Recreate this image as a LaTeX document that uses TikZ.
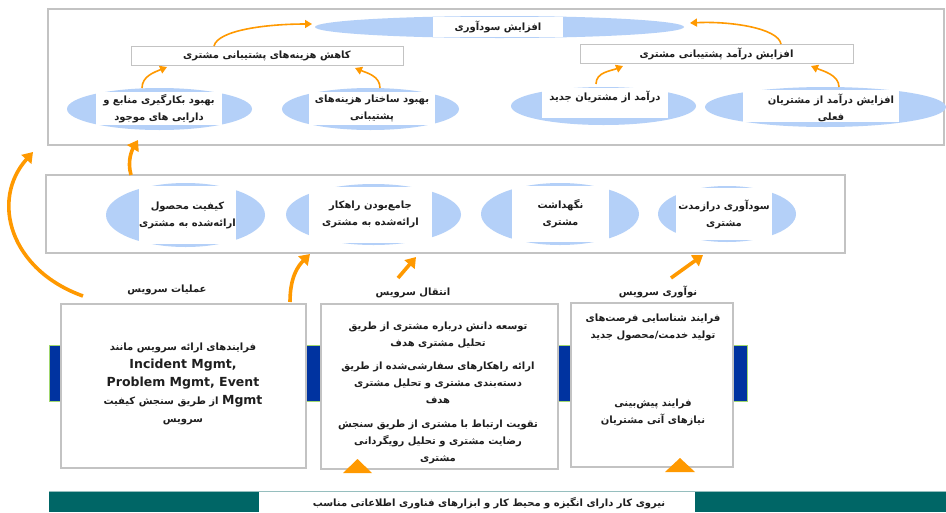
\documentclass[tikz,border=0pt]{standalone}
\usepackage{fontspec}
\setmainfont{DejaVu Sans}
\newfontfamily\fafont[Script=Arabic]{DejaVu Sans}
\TeXXeTstate=1
\usetikzlibrary{shapes.geometric,arrows.meta,calc}
\newcommand{\fa}[1]{{\fafont\bfseries\beginR #1\endR}}
\newcommand{\fasize}{\fontsize{10}{17}\selectfont}
\newcommand{\ensize}{\fontsize{12.5}{17}\selectfont\bfseries}
\definecolor{ellblue}{RGB}{180,208,248}
\definecolor{arrorange}{RGB}{255,153,0}
\definecolor{framegray}{RGB}{195,195,195}
\definecolor{barblue}{RGB}{0,51,160}
\definecolor{barteal}{RGB}{0,102,102}
\definecolor{bargreen}{RGB}{160,215,110}
\definecolor{tealedge}{RGB}{150,190,190}
\definecolor{inkgray}{RGB}{30,30,30}
\begin{document}
\begin{tikzpicture}[x=1pt,y=-1pt,
  every node/.style={inner sep=0pt, outer sep=0pt, text=inkgray},
  frame/.style={rectangle, draw=framegray, line width=1.3pt, fill=white},
  ell/.style={ellipse, fill=ellblue, draw=none},
  wlab/.style={rectangle, fill=white, draw=none, align=center, font=\fasize},
  txt/.style={align=center, font=\fasize},
  thinarr/.style={draw=arrorange, line width=1.6pt, -{Triangle[length=7pt,width=8pt]}},
  thickarr/.style={draw=arrorange, line width=3.6pt, -{Triangle[length=10pt,width=13pt]}}]
\useasboundingbox (0,0) rectangle (946,512);

% ---------- upper frame: profitability goals ----------
\node[frame, minimum width=896pt, minimum height=136pt] (topFrame) at (496,77) {};
\node[ell, minimum width=369pt, minimum height=22pt] (goalE) at (499.5,27) {};
\node[wlab, minimum width=130pt, minimum height=20pt] (goal) at (498,27) {\fa{افزایش سودآوری}};

\node[frame, line width=1pt, minimum width=272pt, minimum height=19pt, font=\fasize] (kahesh) at (267,55.5)
  {\fa{کاهش هزینه‌های پشتیبانی مشتری}};
\node[frame, line width=1pt, minimum width=273pt, minimum height=19pt, font=\fasize] (darAmad) at (716.5,53.5)
  {\fa{افزایش درآمد پشتیبانی مشتری}};

\node[ell, minimum width=185pt, minimum height=42pt] (e1) at (159.5,109) {};
\node[wlab, minimum width=126pt, minimum height=33pt] (e1t) at (159,108.5)
  {\fa{بهبود بکارگیری منابع و}\\ \fa{دارایی های موجود}};
\node[ell, minimum width=177pt, minimum height=42pt] (e2) at (370.5,109) {};
\node[wlab, minimum width=126pt, minimum height=33pt] (e2t) at (372,108.5)
  {\fa{بهبود ساختار هزینه‌های}\\ \fa{پشتیبانی}};
\node[ell, minimum width=185pt, minimum height=38pt] (e3) at (603.5,106) {};
\node[wlab, minimum width=126pt, minimum height=30pt] (e3w) at (605,103) {};
\node[txt] (e3t) at (605,97) {\fa{درآمد از مشتریان جدید}};
\node[ell, minimum width=241pt, minimum height=40pt] (e4) at (825.5,107) {};
\node[wlab, minimum width=156pt, minimum height=32pt] (e4w) at (821,106) {};
\node[txt] (e4t) at (831,108) {\fa{افزایش درآمد از مشتریان}\\ \fa{فعلی}};

\draw[thinarr] ($(kahesh.north)+(-53,0)$) .. controls +(4,-16) and +(-45,0) .. ($(goalE.west)+(-3,-3)$);
\draw[thinarr] ($(darAmad.north)+(64.5,0)$) .. controls +(-3,-16) and +(40,-2) .. ($(goalE.east)+(6,-4)$);
\draw[thinarr] ($(e1.north)+(-17.5,0)$) .. controls +(0,-12) and +(-12,5) .. ($(kahesh.south west)+(36,2)$);
\draw[thinarr] ($(e2.north)+(9.5,0)$) .. controls +(0,-12) and +(12,5) .. ($(kahesh.south east)+(-48,3)$);
\draw[thinarr] ($(e3.north)+(-7.5,-3)$) .. controls +(0,-12) and +(-12,5) .. ($(darAmad.south west)+(43,3)$);
\draw[thinarr] ($(e4.north)+(13.5,0)$) .. controls +(0,-12) and +(12,5) .. ($(darAmad.south east)+(-42,3)$);

% ---------- middle frame: customer outcomes ----------
\node[frame, minimum width=799pt, minimum height=78pt] (midFrame) at (445.5,214) {};
\node[ell, minimum width=159pt, minimum height=64pt] (m1) at (185.5,215) {};
\node[wlab, minimum width=97pt, minimum height=58pt] (m1t) at (187.5,215)
  {\fa{کیفیت محصول}\\ \fa{ارائه‌شده به مشتری}};
\node[ell, minimum width=175pt, minimum height=61pt] (m2) at (373.5,214.5) {};
\node[wlab, minimum width=123pt, minimum height=56pt] (m2t) at (370.5,214.5)
  {\fa{جامع‌بودن راهکار}\\ \fa{ارائه‌شده به مشتری}};
\node[ell, minimum width=158pt, minimum height=62pt] (m3) at (560,214) {};
\node[wlab, minimum width=97pt, minimum height=56pt] (m3t) at (560.5,214)
  {\fa{نگهداشت}\\ \fa{مشتری}};
\node[ell, minimum width=138pt, minimum height=56pt] (m4) at (727,214) {};
\node[wlab, minimum width=96pt, minimum height=52pt] (m4t) at (724,214)
  {\fa{سودآوری درازمدت}\\ \fa{مشتری}};

% ---------- lower part: service processes ----------
\node[rectangle, fill=barblue, draw=bargreen, line width=0.6pt, minimum width=698pt, minimum height=56pt] (blueBar) at (398,373) {};

\node[frame, minimum width=245pt, minimum height=164pt] (boxA) at (183.5,386) {};
\node[frame, minimum width=237pt, minimum height=165pt] (boxB) at (439.5,386.5) {};
\node[frame, minimum width=162pt, minimum height=164pt] (boxC) at (652,385) {};

\node[txt] (opsLbl) at (167,290) {\fa{عملیات سرویس}};
\node[txt] (transLbl) at (413,293) {\fa{انتقال سرویس}};
\node[txt] (innovLbl) at (658,292) {\fa{نوآوری سرویس}};

\node[txt, font=\fontsize{10}{18}\selectfont] (boxAt) at (183,384)
  {\fa{فرایندهای ارائه سرویس مانند}\\
   {\ensize Incident Mgmt,}\\
   {\ensize Problem Mgmt, Event}\\
   \fa{\beginL{\ensize Mgmt}\endL{} از طریق سنجش کیفیت}\\
   \fa{سرویس}};

\node[txt] (boxBt1) at (438,335.5)
  {\fa{توسعه دانش درباره مشتری از طریق}\\ \fa{تحلیل مشتری هدف}};
\node[txt] (boxBt2) at (438,383)
  {\fa{ارائه راهکارهای سفارشی‌شده از طریق}\\ \fa{دسته‌بندی مشتری و تحلیل مشتری}\\ \fa{هدف}};
\node[txt] (boxBt3) at (438,442)
  {\fa{تقویت ارتباط با مشتری از طریق سنجش}\\ \fa{رضایت مشتری و تحلیل رویگردانی}\\ \fa{مشتری}};

\node[txt] (boxCt1) at (653,327)
  {\fa{فرایند شناسایی فرصت‌های}\\ \fa{تولید خدمت/محصول جدید}};
\node[txt] (boxCt2) at (653,412)
  {\fa{فرایند پیش‌بینی}\\ \fa{نیازهای آتی مشتریان}};

% big arrows from the processes up to the outcomes and goals
\draw[thickarr] ($(boxA.north west)+(22,-8)$) .. controls +(-73,-26) and +(-43,48) .. ($(topFrame.south west)+(-15,7)$);
\draw[thickarr] ($(midFrame.north west)+(85,0)$) .. controls +(-4,-14) and +(-6,10) .. ($(topFrame.south west)+(90,-5)$);
\draw[thickarr] ($(boxA.north east)+(-16,-2)$) .. controls +(0,-25) and +(-12,12) .. ($(midFrame.south west)+(264,1)$);
\draw[thickarr] ($(midFrame.south west)+(352,25)$) -- ($(midFrame.south west)+(370,4)$);
\draw[thickarr] ($(midFrame.south west)+(625,25)$) -- ($(midFrame.south west)+(657,2)$);

% ---------- foundation bar ----------
\node[rectangle, fill=barteal, draw=none, minimum width=897pt, minimum height=21pt] (baseBar) at (497.5,501.5) {};
\draw[tealedge, line width=0.8pt] (baseBar.north west) -- (baseBar.north east);
\node[rectangle, fill=white, minimum width=436pt, minimum height=20pt] (baseBox) at (477,502) {};
\node[txt] (baseTxt) at (489,503) {\fa{نیروی کار دارای انگیزه و محیط کار و ابزارهای فناوری اطلاعاتی مناسب}};

\fill[arrorange] ($(boxB.south west)+(22,4)$) -- ($(boxB.south west)+(36.5,-10)$) -- ($(boxB.south west)+(51,4)$) -- cycle;
\fill[arrorange] ($(boxC.south west)+(94,5)$) -- ($(boxC.south west)+(109,-9)$) -- ($(boxC.south west)+(124,5)$) -- cycle;
\end{tikzpicture}
\end{document}
